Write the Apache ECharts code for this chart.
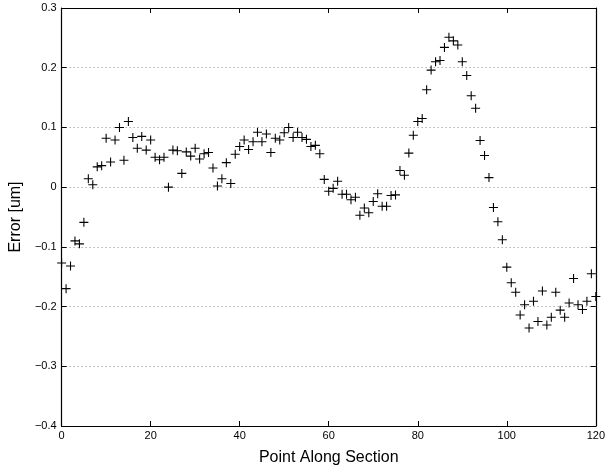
<!DOCTYPE html>
<html>
<head>
<meta charset="utf-8">
<script src="https://cdn.jsdelivr.net/npm/echarts@6/dist/echarts.min.js"></script>
<style>
html,body{margin:0;padding:0;background:#fff;}
#chart{width:608px;height:471px;}
</style>
</head>
<body>
<div id="chart"></div>
<script>
// Error value at each point along the section (point index = position in array, 0..120)
const errorValues = [
  -0.127, -0.170, -0.132, -0.090, -0.095, -0.059, 0.014, 0.004, 0.034, 0.036,
  0.082, 0.042, 0.079, 0.100, 0.045, 0.110, 0.083, 0.065, 0.085, 0.062,
  0.079, 0.050, 0.046, 0.050, 0.000, 0.062, 0.061, 0.023, 0.059, 0.052,
  0.065, 0.047, 0.056, 0.058, 0.032, 0.002, 0.014, 0.041, 0.006, 0.055,
  0.068, 0.079, 0.063, 0.076, 0.092, 0.076, 0.089, 0.058, 0.082, 0.079,
  0.091, 0.100, 0.083, 0.092, 0.083, 0.080, 0.068, 0.070, 0.056, 0.013,
  -0.007, -0.002, 0.010, -0.012, -0.012, -0.021, -0.017, -0.047, -0.035, -0.043,
  -0.024, -0.011, -0.032, -0.032, -0.014, -0.013, 0.028, 0.020, 0.057, 0.087,
  0.110, 0.115, 0.163, 0.196, 0.210, 0.212, 0.234, 0.251, 0.245, 0.238,
  0.210, 0.187, 0.153, 0.132, 0.078, 0.053, 0.016, -0.034, -0.058, -0.088,
  -0.134, -0.160, -0.176, -0.214, -0.197, -0.236, -0.191, -0.225, -0.174, -0.231,
  -0.218, -0.176, -0.206, -0.218, -0.194, -0.153, -0.197, -0.205, -0.191, -0.145,
  -0.183
];
const xTicks = [0, 20, 40, 60, 80, 100, 120];
const yTicks = [-0.4, -0.3, -0.2, -0.1, 0, 0.1, 0.2, 0.3];
const xTitle = 'Point Along Section';
const yTitle = 'Error [um]';

const points = errorValues.map((v, i) => [i, v]);
const font = 'Liberation Sans, Arial, Helvetica, sans-serif';
const fmtY = v => {
  const r = Math.round(v * 10) / 10;
  if (r === 0) return '0';
  return String(r).replace('-', '\u2212');
};
const plus = 'path://M4.4,0H5.6V4.4H10V5.6H5.6V10H4.4V5.6H0V4.4H4.4Z';

const chart = echarts.init(document.getElementById('chart'), null, {renderer: 'canvas'});
const axisLine = {show: true, onZero: false, lineStyle: {color: '#000', width: 1.2}};
const tick = {show: true, inside: true, length: 5, lineStyle: {color: '#000', width: 1}};
chart.setOption({
  animation: false,
  backgroundColor: '#fff',
  grid: {left: 58, right: 11, top: 8, bottom: 38, containLabel: false},
  xAxis: [
    {
      type: 'value', min: xTicks[0], max: xTicks[xTicks.length - 1], interval: 20,
      position: 'bottom',
      name: xTitle, nameLocation: 'middle', nameGap: 24,
      nameTextStyle: {fontFamily: font, fontSize: 16, color: '#000'},
      axisLine: axisLine, axisTick: tick,
      axisLabel: {fontFamily: font, fontSize: 11, color: '#000', margin: 4},
      splitLine: {show: false}
    },
    {
      type: 'value', min: xTicks[0], max: xTicks[xTicks.length - 1], interval: 20,
      position: 'top',
      axisLine: axisLine, axisTick: tick,
      axisLabel: {show: false}, splitLine: {show: false}
    }
  ],
  yAxis: [
    {
      type: 'value', min: yTicks[0], max: yTicks[yTicks.length - 1], interval: 0.1,
      position: 'left',
      name: yTitle, nameLocation: 'middle', nameGap: 31, nameRotate: 90,
      nameTextStyle: {fontFamily: font, fontSize: 16, color: '#000'},
      axisLine: axisLine, axisTick: tick,
      axisLabel: {fontFamily: font, fontSize: 11, color: '#000', margin: 5, formatter: fmtY},
      splitLine: {show: true, lineStyle: {color: '#888', width: 1, type: [1, 3]}}
    },
    {
      type: 'value', min: yTicks[0], max: yTicks[yTicks.length - 1], interval: 0.1,
      position: 'right',
      axisLine: axisLine, axisTick: tick,
      axisLabel: {show: false}, splitLine: {show: false}
    }
  ],
  series: [{
    type: 'scatter',
    xAxisIndex: 0, yAxisIndex: 0,
    data: points,
    symbol: plus,
    symbolSize: 9,
    itemStyle: {color: '#000', opacity: 1},
    clip: false
  }]
});
</script>
</body>
</html>
